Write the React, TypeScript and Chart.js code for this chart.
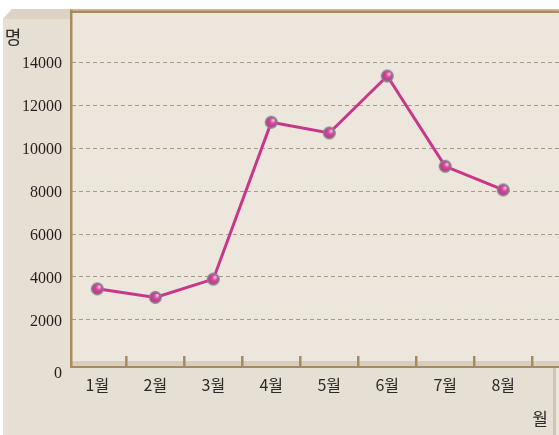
import React, { useEffect, useRef } from "react";
import { Chart, registerables } from "chart.js";

Chart.register(...registerables);

const months = ["1월", "2월", "3월", "4월", "5월", "6월", "7월", "8월"];
const visitors = [3450, 3050, 3900, 11200, 10700, 13350, 9150, 8050];
const yTicks = [0, 2000, 4000, 6000, 8000, 10000, 12000, 14000];
const yTitle = "명";
const xTitle = "월";

const Y_MIN = -140;
const Y_MAX = 16280;
const ZERO_LABEL_DROP = 260; // the "0" label sits just below the base line
const X_MIN = 0.563;
const X_MAX = 8.962;

const BROWN = "#a88b5c";
const CJK = '"Noto Sans CJK KR", "Noto Sans", sans-serif';

function makePointImage(): HTMLCanvasElement {
  const c = document.createElement("canvas");
  c.width = 15;
  c.height = 15;
  const g = c.getContext("2d")!;
  const cx = 7.5;
  const cy = 7.5;
  const grad = g.createRadialGradient(cx + 2.2, cy - 2.2, 0.5, cx, cy, 6.5);
  grad.addColorStop(0, "#f7c6e2");
  grad.addColorStop(0.35, "#d54a9c");
  grad.addColorStop(1, "#be2a82");
  g.beginPath();
  g.arc(cx, cy, 5.8, 0, Math.PI * 2);
  g.fillStyle = grad;
  g.fill();
  g.lineWidth = 1.4;
  g.strokeStyle = "#7d8a8a";
  g.stroke();
  return c;
}

const decorPlugin = {
  id: "decor",
  beforeDraw(chart: any) {
    const { ctx, chartArea: a, width, height } = chart;
    ctx.save();
    ctx.fillStyle = "#ffffff";
    ctx.fillRect(0, 0, width, height);
    ctx.fillStyle = "#e6dfd3";
    ctx.beginPath();
    ctx.moveTo(3, 19);
    ctx.lineTo(12, 9);
    ctx.lineTo(555, 9);
    ctx.lineTo(555, height);
    ctx.lineTo(3, height);
    ctx.closePath();
    ctx.fill();
    ctx.fillStyle = "#ddd3c4";
    ctx.beginPath();
    ctx.moveTo(3, 19);
    ctx.lineTo(12, 9);
    ctx.lineTo(a.left, 9);
    ctx.lineTo(a.left, 19);
    ctx.closePath();
    ctx.fill();
    ctx.fillStyle = "#cfc6b8";
    ctx.fillRect(553, a.bottom, 3, height - a.bottom);
    ctx.fillStyle = "#ebe5dc";
    ctx.fillRect(556, a.bottom, width - 556, height - a.bottom);
    ctx.fillStyle = "#ece6dc";
    ctx.fillRect(a.left, a.top, a.right - a.left, a.bottom - a.top);
    ctx.fillStyle = "#d8cebf";
    ctx.fillRect(a.left, a.bottom - 5, a.right - a.left, 5);
    ctx.restore();
  },
  beforeDatasetsDraw(chart: any) {
    const { ctx, chartArea: a, width } = chart;
    const xs = chart.scales.x;
    ctx.save();
    ctx.fillStyle = "#cdb994";
    ctx.fillRect(a.left - 2, 9, width, 1.5);
    ctx.fillStyle = BROWN;
    ctx.fillRect(a.left - 2, 10.5, width, 2.5);
    ctx.fillRect(70, 10, 2.5, a.bottom + 2 - 10);
    ctx.fillRect(70, a.bottom, width - 70, 2);
    for (let i = 1; i <= months.length; i++) {
      const x = xs.getPixelForValue(i + 0.5);
      ctx.fillRect(x - 1.25, a.bottom - 10, 2.5, 10);
    }
    ctx.restore();
  },
  afterDraw(chart: any) {
    const { ctx } = chart;
    ctx.save();
    ctx.fillStyle = "#2b2b2b";
    ctx.font = `18px ${CJK}`;
    ctx.textAlign = "center";
    ctx.textBaseline = "middle";
    ctx.fillText(yTitle, 13, 37);
    ctx.font = `17px ${CJK}`;
    ctx.fillText(xTitle, 540, 419);
    ctx.restore();
  },
};

export default function App() {
  const ref = useRef<HTMLCanvasElement>(null);
  useEffect(() => {
    if (!ref.current) return;
    const pointImg = makePointImage();
    const chart = new Chart(ref.current, {
      type: "line",
      data: {
        datasets: [
          {
            data: visitors.map((v, i) => ({ x: i + 1, y: v })),
            borderColor: "#c8368a",
            borderWidth: 3,
            pointStyle: pointImg as any,
            pointRadius: 7,
            tension: 0,
          },
        ],
      },
      plugins: [decorPlugin],
      options: {
        responsive: false,
        animation: false,
        devicePixelRatio: 1,
        layout: { autoPadding: false, padding: { top: 13, left: 0, right: 0, bottom: 0 } },
        plugins: { legend: { display: false }, tooltip: { enabled: false } },
        scales: {
          x: {
            type: "linear",
            min: X_MIN,
            max: X_MAX,
            afterBuildTicks: (s: any) => {
              s.ticks = months.map((_, i) => ({ value: i + 1 }));
            },
            afterFit: (s: any) => {
              s.height = 69;
              s.paddingLeft = 0;
              s.paddingRight = 0;
            },
            grid: { display: false, drawTicks: false },
            border: { display: false },
            ticks: {
              autoSkip: false,
              maxRotation: 0,
              padding: 9,
              color: "#2b2b2b",
              font: { family: CJK, size: 16 },
              callback: (_v: any, idx: number) => months[idx],
            },
          },
          y: {
            min: Y_MIN,
            max: Y_MAX,
            afterBuildTicks: (s: any) => {
              s.ticks = yTicks.map((v) => ({ value: v <= 0 ? Y_MIN - ZERO_LABEL_DROP : v }));
            },
            afterFit: (s: any) => {
              s.width = 72;
              s.paddingTop = 0;
              s.paddingBottom = 0;
            },
            grid: {
              drawTicks: false,
              color: (c: any) => (c.tick && c.tick.value <= Y_MIN ? "rgba(0,0,0,0)" : "#a99b7c"),
              lineWidth: 1,
            },
            border: { display: false, dash: [4, 3] },
            ticks: {
              padding: 10,
              labelOffset: 2,
              color: "#231f20",
              font: { family: '"Liberation Serif", "Times New Roman", serif', size: 16 },
              callback: (_v: any, idx: number) => String(yTicks[idx]),
            },
          },
        },
      },
    });
    return () => chart.destroy();
  }, []);
  return (
    <div style={{ position: "fixed", left: 0, top: 0, width: 559, height: 435 }}>
      <canvas ref={ref} width={559} height={435} style={{ display: "block", width: 559, height: 435 }} />
    </div>
  );
}
